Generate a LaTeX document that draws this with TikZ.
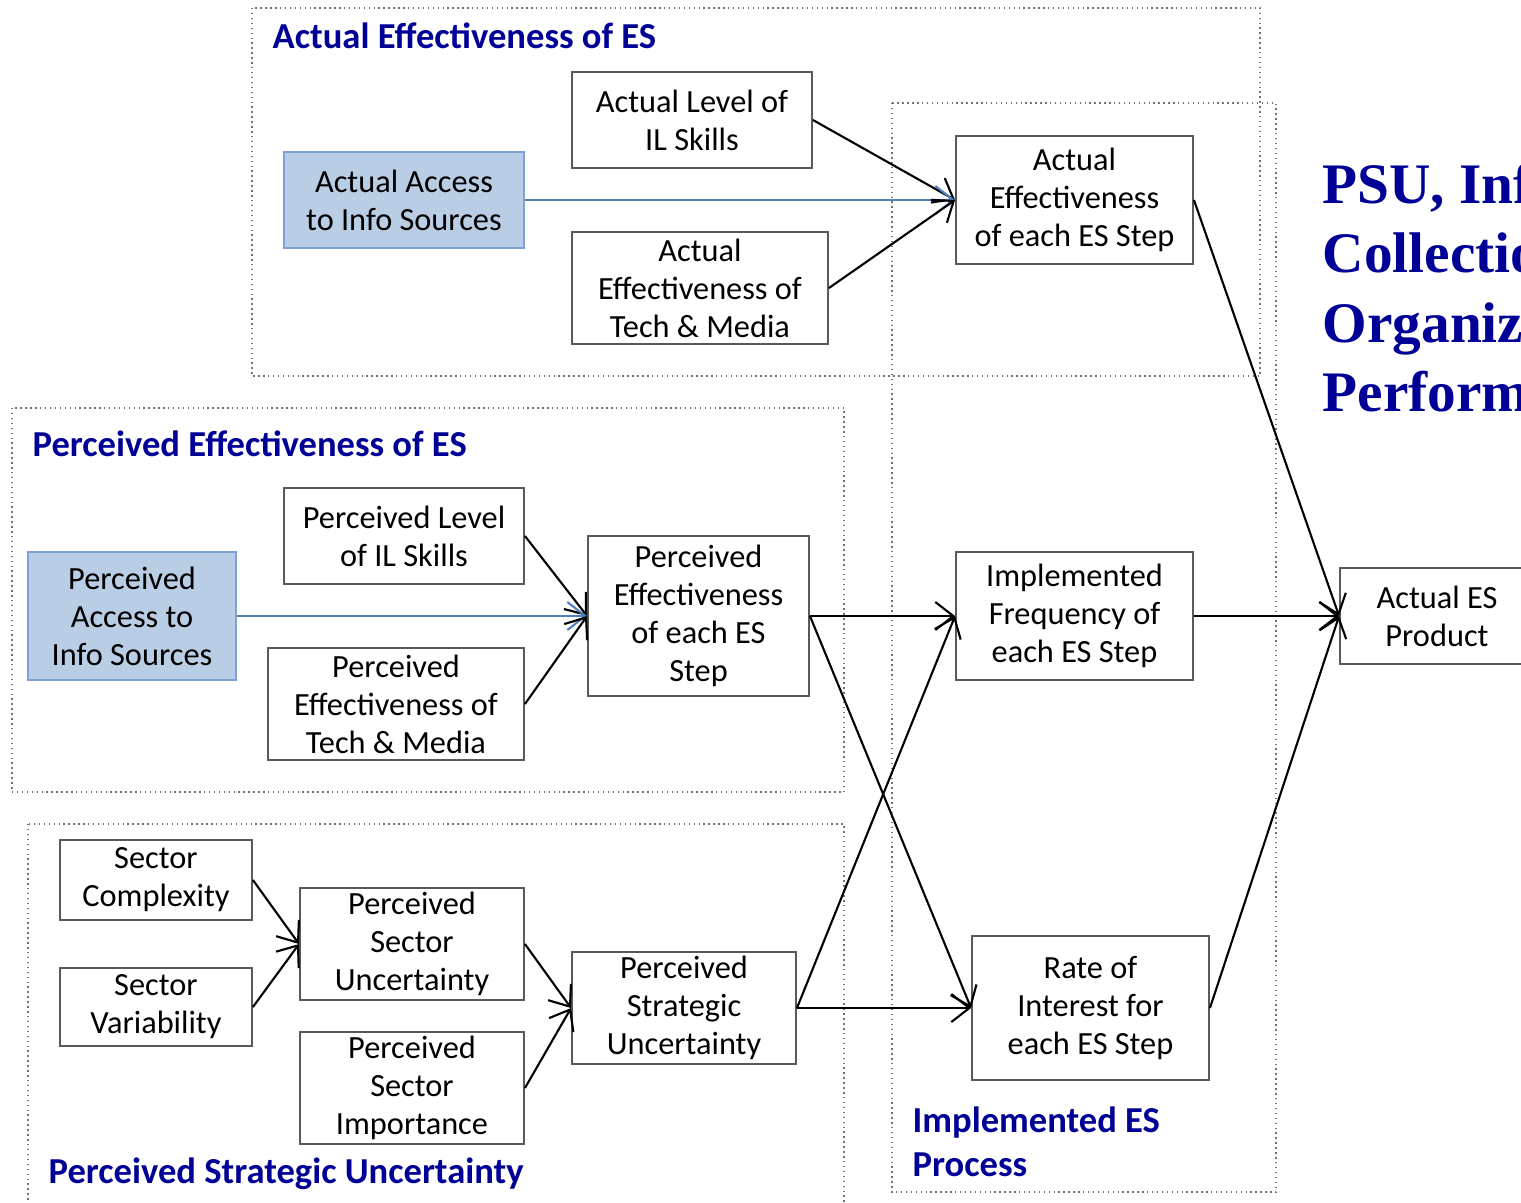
\documentclass[tikz,border=0pt]{standalone}
\usepackage{fontspec}
\setmainfont{Carlito}
\newfontfamily\titlefont{Liberation Serif}
\usetikzlibrary{arrows.meta}

\definecolor{headblue}{RGB}{0,0,150}
\definecolor{accfill}{RGB}{185,205,229}
\definecolor{accline}{RGB}{126,160,214}
\definecolor{arrblue}{RGB}{79,129,189}

\tikzset{
  box/.style={draw=black!65, line width=0.5pt, align=center, inner sep=0pt,
    font=\fontsize{9.2}{10.8}\selectfont},
  accbox/.style={box, fill=accfill, draw=accline},
  frame/.style={draw=black!55, densely dotted, line width=0.4pt},
  head/.style={inner sep=0pt, text=headblue, align=left,
    font=\fontsize{10.4}{12.5}\selectfont\bfseries},
  link/.style={-{Straight Barb[length=1.8mm,width=2.8mm]}, line width=0.6pt},
}

\begin{document}
\begin{tikzpicture}[x=0.01cm, y=-0.01cm]
\path[use as bounding box, clip] (0,0) rectangle (1521,1202);

% dotted frames
\draw[frame] (252,8) rectangle (1260,376);
\draw[frame] (12,408) rectangle (844,792);
\draw[frame] (28,824) rectangle (844,1240);
\draw[frame] (892,103) rectangle (1276,1192);

% frame headings
\node[head, anchor=base west] (hActual) at (272,48) {Actual Effectiveness of ES};
\node[head, anchor=base west] (hPerc) at (32,456) {Perceived Effectiveness of ES};
\node[head, anchor=base west] (hPSU) at (48,1183) {Perceived Strategic Uncertainty};
\node[head, anchor=north west] (hImpl) at (912,1106) {Implemented ES\\Process};

% actual effectiveness
\node[box, minimum width=2.4cm, minimum height=0.96cm] (ALevel) at (692,120) {Actual Level of\\IL Skills};
\node[accbox, minimum width=2.4cm, minimum height=0.96cm] (AAccess) at (404,200) {Actual Access\\to Info Sources};
\node[box, minimum width=2.56cm, minimum height=1.12cm] (ATech) at (700,288) {Actual\\Effectiveness of\\Tech \& Media};
\node[box, minimum width=2.37cm, minimum height=1.28cm] (AStep) at (1074.5,200) {Actual\\Effectiveness\\of each ES Step};

% perceived effectiveness
\node[box, minimum width=2.4cm, minimum height=0.96cm] (PLevel) at (404,536) {Perceived Level\\of IL Skills};
\node[accbox, minimum width=2.08cm, minimum height=1.28cm] (PAccess) at (132,616) {Perceived\\Access to\\Info Sources};
\node[box, minimum width=2.56cm, minimum height=1.12cm] (PTech) at (396,704) {Perceived\\Effectiveness of\\Tech \& Media};
\node[box, minimum width=2.21cm, minimum height=1.6cm] (PStep) at (698.5,616) {Perceived\\Effectiveness\\of each ES\\Step};

% perceived strategic uncertainty
\node[box, minimum width=1.92cm, minimum height=0.8cm] (SComp) at (156,880) {Sector\\Complexity};
\node[box, minimum width=1.92cm, minimum height=0.78cm] (SVar) at (156,1007) {Sector\\Variability};
\node[box, minimum width=2.24cm, minimum height=1.12cm] (PSecU) at (412,944) {Perceived\\Sector\\Uncertainty};
\node[box, minimum width=2.24cm, minimum height=1.12cm] (PSecI) at (412,1088) {Perceived\\Sector\\Importance};
\node[box, minimum width=2.24cm, minimum height=1.12cm] (PStrat) at (684,1008) {Perceived\\Strategic\\Uncertainty};

% implemented process and product
\node[box, minimum width=2.37cm, minimum height=1.28cm] (ImplFreq) at (1074.5,616) {Implemented\\Frequency of\\each ES Step};
\node[box, minimum width=2.37cm, minimum height=1.44cm] (Rate) at (1090.5,1008) {Rate of\\Interest for\\each ES Step};
\node[box, minimum width=1.94cm, minimum height=0.96cm] (Product) at (1437,616) {Actual ES\\Product};

% side title
\node[anchor=north west, inner sep=0pt, text=headblue, align=left,
  font=\titlefont\fontsize{16.3}{19.8}\selectfont\bfseries] (sideTitle) at (1322,162)
  {PSU, Info\\Collection,\\Organizational\\Performance};

% links
\draw[link] (ALevel.east) -- (AStep.west);
\draw[link, arrblue] (AAccess.east) -- (AStep.west);
\draw[link] (ATech.east) -- (AStep.west);
\draw[link] (PLevel.east) -- (PStep.west);
\draw[link, arrblue] (PAccess.east) -- (PStep.west);
\draw[link] (PTech.east) -- (PStep.west);
\draw[link] (SComp.east) -- (PSecU.west);
\draw[link] (SVar.east) -- (PSecU.west);
\draw[link] (PSecU.east) -- (PStrat.west);
\draw[link] (PSecI.east) -- (PStrat.west);
\draw[link] (PStep.east) -- (ImplFreq.west);
\draw[link] (PStep.east) -- (Rate.west);
\draw[link] (PStrat.east) -- (ImplFreq.west);
\draw[link] (PStrat.east) -- (Rate.west);
\draw[link] (AStep.east) -- (Product.west);
\draw[link] (ImplFreq.east) -- (Product.west);
\draw[link] (Rate.east) -- (Product.west);
\end{tikzpicture}
\end{document}
